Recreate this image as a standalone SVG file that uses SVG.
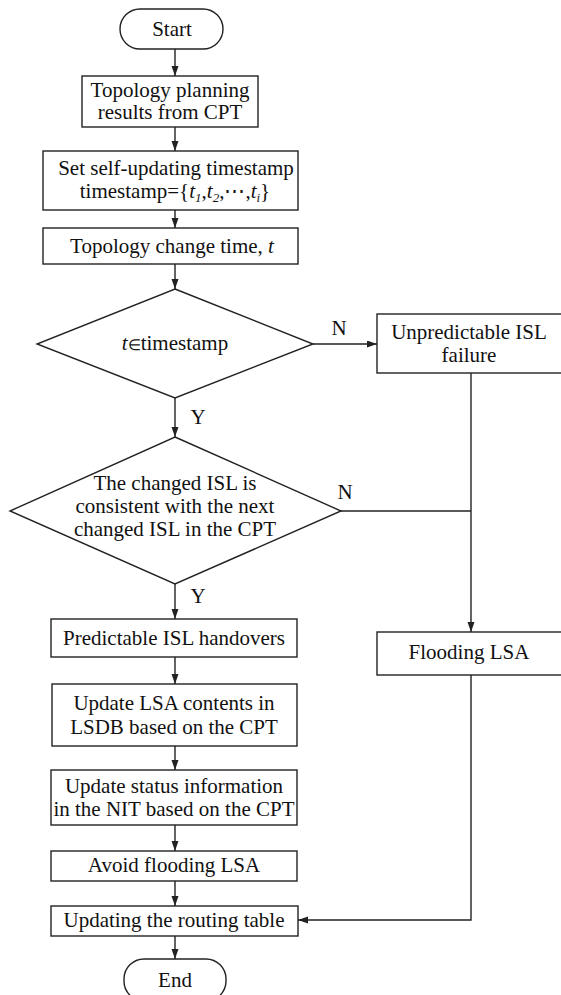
<svg xmlns="http://www.w3.org/2000/svg" width="561" height="995" viewBox="0 0 561 995">
<style>
.s{fill:#fff;stroke:#222;stroke-width:1.4}
.t{font-family:"Liberation Serif","Times New Roman",serif;font-size:21px;fill:#111;text-anchor:middle}
.i{font-style:italic}
.c{fill:none;stroke:#222;stroke-width:1.4}
</style>
<defs>
<marker id="ah" markerUnits="userSpaceOnUse" markerWidth="11" markerHeight="8" refX="10" refY="3.5" orient="auto">
<path d="M0,0 L10,3.5 L0,7 z" fill="#222"/>
</marker>
</defs>
<g id="connectors">
<path class="c" d="M175,49 V76" marker-end="url(#ah)"/>
<path class="c" d="M175,127 V151" marker-end="url(#ah)"/>
<path class="c" d="M175,210 V228" marker-end="url(#ah)"/>
<path class="c" d="M175,264 V289" marker-end="url(#ah)"/>
<path class="c" d="M175,398 V437" marker-end="url(#ah)"/>
<path class="c" d="M313,344 H377" marker-end="url(#ah)"/>
<path class="c" d="M175,584 V619" marker-end="url(#ah)"/>
<path class="c" d="M175,657 V684" marker-end="url(#ah)"/>
<path class="c" d="M175,746 V770" marker-end="url(#ah)"/>
<path class="c" d="M175,825 V851" marker-end="url(#ah)"/>
<path class="c" d="M175,881 V906" marker-end="url(#ah)"/>
<path class="c" d="M175,936 V959" marker-end="url(#ah)"/>
<path class="c" d="M471,373 V632" marker-end="url(#ah)"/>
<path class="c" d="M341,511 H471"/>
<path class="c" d="M471,675 V920 H298" marker-end="url(#ah)"/>
<text class="t" x="339" y="335">N</text>
<text class="t" x="345" y="499">N</text>
<text class="t" x="198" y="424">Y</text>
<text class="t" x="198" y="603">Y</text>
</g>
<g id="start">
<rect class="s" x="120" y="9" width="103" height="40" rx="20" ry="20"/>
<text class="t" x="172" y="36">Start</text>
</g>
<g id="topology-planning">
<rect class="s" x="82" y="76" width="176" height="51"/>
<text class="t" x="170" y="97">Topology planning</text>
<text class="t" x="170" y="119">results from CPT</text>
</g>
<g id="set-timestamp">
<rect class="s" x="43" y="151" width="255" height="59"/>
<text class="t" x="176" y="175">Set self-updating timestamp</text>
<text class="t" x="175" y="198">timestamp={<tspan class="i">t</tspan><tspan class="i" font-size="13" dy="4">1</tspan><tspan dy="-4">,</tspan><tspan class="i">t</tspan><tspan class="i" font-size="13" dy="4">2</tspan><tspan dy="-4">,⋯,</tspan><tspan class="i">t</tspan><tspan class="i" font-size="13" dy="4">i</tspan><tspan dy="-4">}</tspan></text>
</g>
<g id="change-time">
<rect class="s" x="43" y="228" width="255" height="36"/>
<text class="t" x="172" y="253">Topology change time, <tspan class="i">t</tspan></text>
</g>
<g id="decision-timestamp">
<polygon class="s" points="175,289 313,344 175,398 37,344"/>
<text class="t" x="175" y="350"><tspan class="i">t</tspan><tspan font-size="15">∈</tspan>timestamp</text>
</g>
<g id="unpredictable">
<rect class="s" x="377" y="314" width="190" height="59"/>
<text class="t" x="469" y="339">Unpredictable ISL</text>
<text class="t" x="469" y="362">failure</text>
</g>
<g id="decision-consistent">
<polygon class="s" points="175,437 341,511 175,584 10,511"/>
<text class="t" x="175" y="490">The changed ISL is</text>
<text class="t" x="175" y="513">consistent with the next</text>
<text class="t" x="175" y="536">changed ISL in the CPT</text>
</g>
<g id="flooding">
<rect class="s" x="377" y="632" width="190" height="43"/>
<text class="t" x="469" y="659">Flooding LSA</text>
</g>
<g id="predictable">
<rect class="s" x="51" y="619" width="246" height="38"/>
<text class="t" x="174" y="645">Predictable ISL handovers</text>
</g>
<g id="update-lsa">
<rect class="s" x="52" y="684" width="245" height="62"/>
<text class="t" x="174" y="710">Update LSA contents in</text>
<text class="t" x="174" y="734">LSDB based on the CPT</text>
</g>
<g id="update-status">
<rect class="s" x="51" y="770" width="246" height="55"/>
<text class="t" x="174" y="793">Update status information</text>
<text class="t" x="174" y="816">in the NIT based on the CPT</text>
</g>
<g id="avoid-flooding">
<rect class="s" x="51" y="851" width="246" height="30"/>
<text class="t" x="174" y="872">Avoid flooding LSA</text>
</g>
<g id="routing-table">
<rect class="s" x="51" y="906" width="247" height="30"/>
<text class="t" x="174" y="927">Updating the routing table</text>
</g>
<g id="end">
<rect class="s" x="124" y="959" width="102" height="42" rx="20" ry="20"/>
<text class="t" x="175" y="987">End</text>
</g>
</svg>
